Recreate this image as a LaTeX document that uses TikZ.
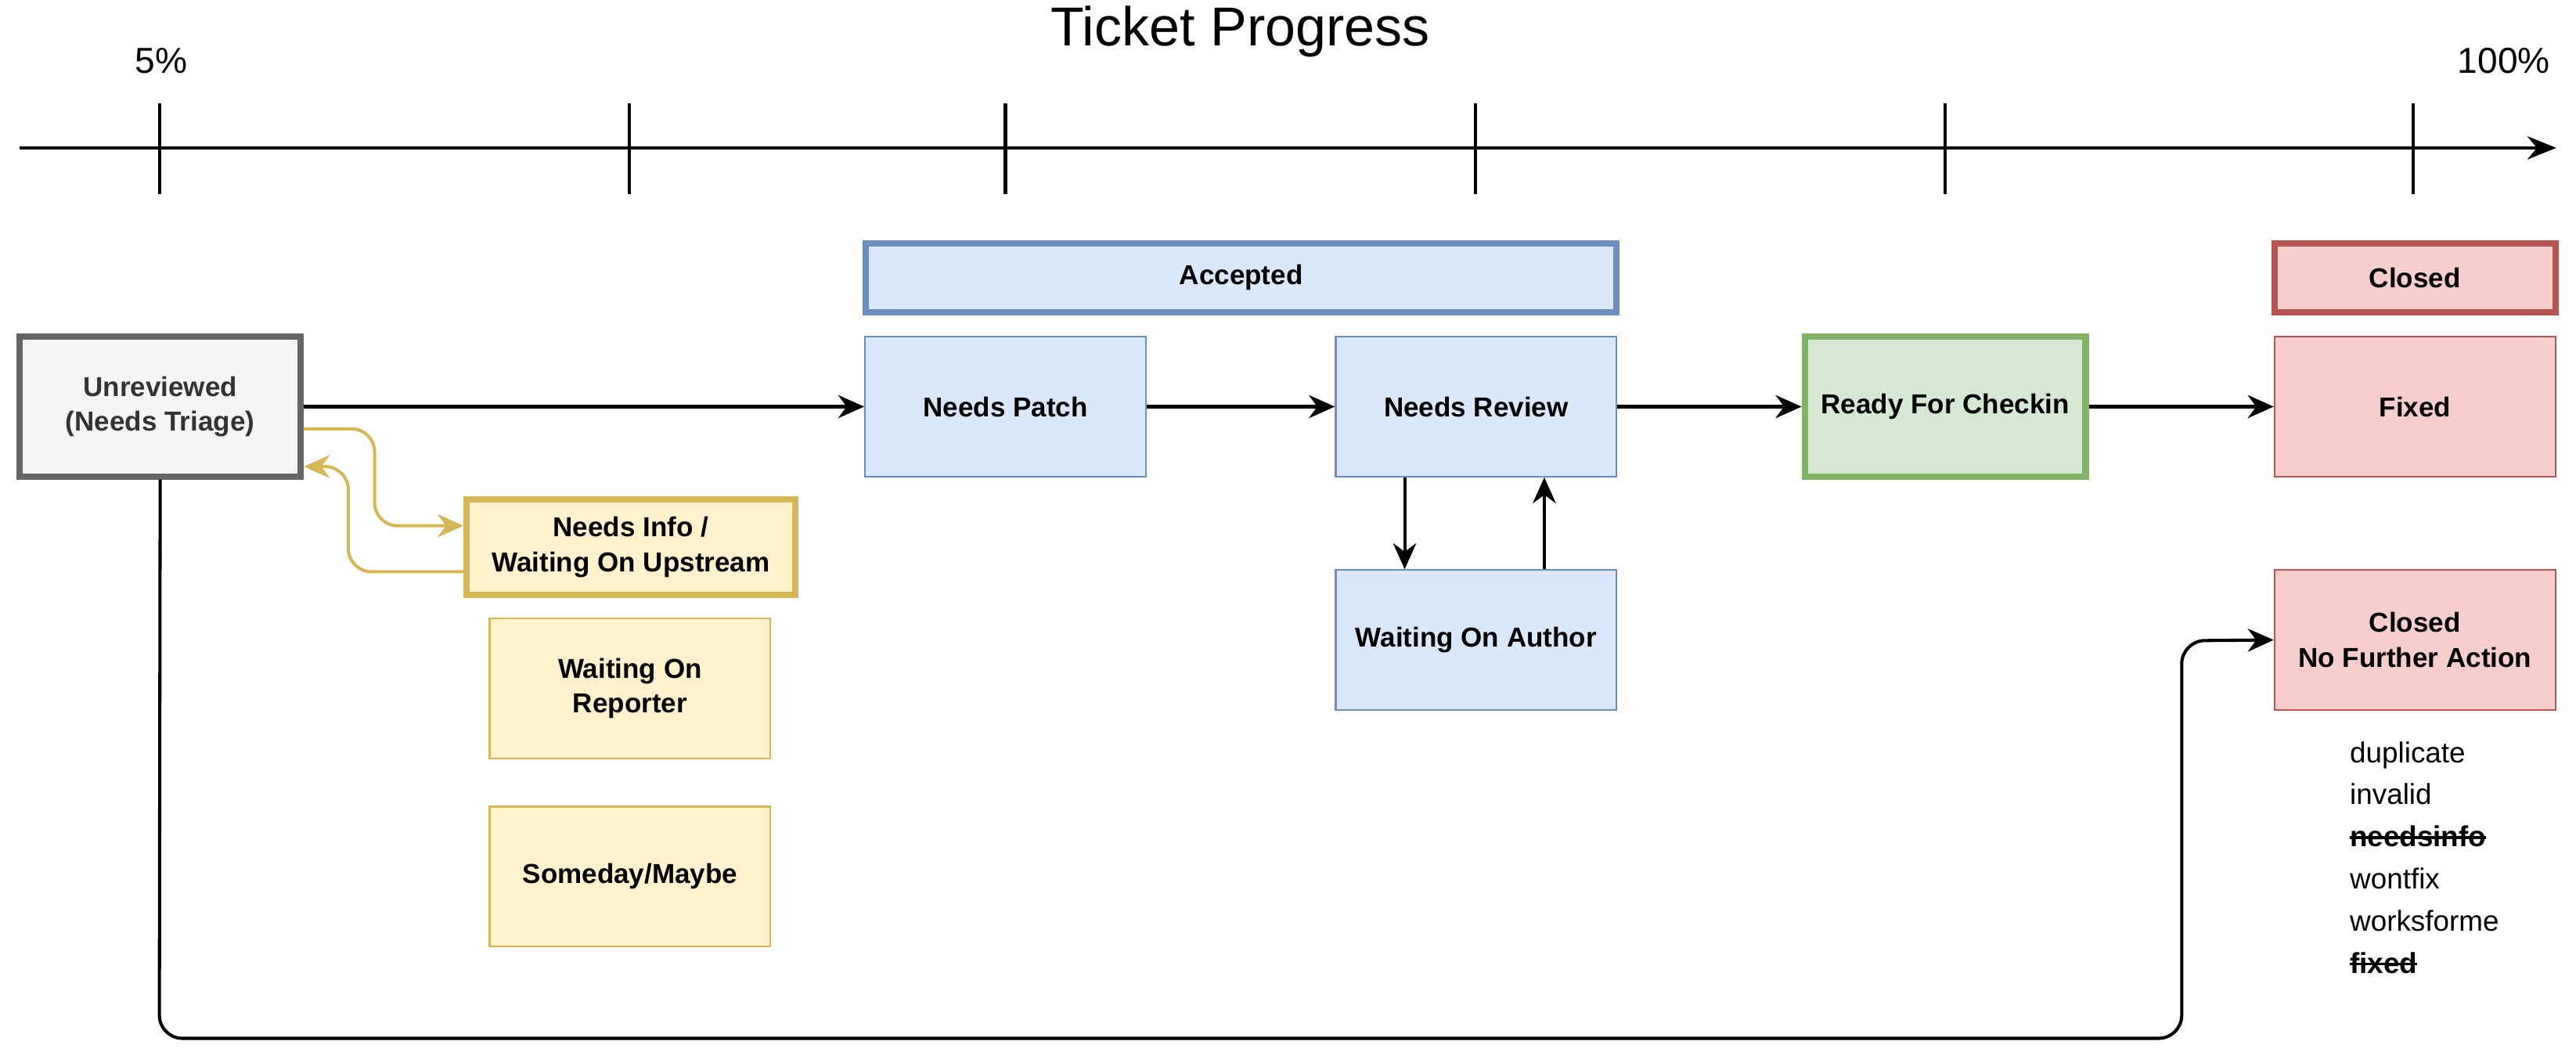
\documentclass[tikz,border=0pt]{standalone}
\usepackage{fontspec}
\setmainfont{Liberation Sans}
\usetikzlibrary{arrows.meta}

\definecolor{blueline}{HTML}{6C8EBF}
\definecolor{bluefill}{HTML}{DAE8FC}
\definecolor{redline}{HTML}{B85450}
\definecolor{redfill}{HTML}{F8CECC}
\definecolor{greenline}{HTML}{82B366}
\definecolor{greenfill}{HTML}{D5E8D4}
\definecolor{goldline}{HTML}{D6B656}
\definecolor{goldfill}{HTML}{FFF2CC}
\definecolor{greyline}{HTML}{666666}
\definecolor{greyfill}{HTML}{F5F5F5}

\newcommand\strikeword[1]{\sbox0{#1}\rlap{\rule[0.27em]{\wd0}{0.9pt}}\usebox0}

\tikzset{
  state/.style={draw, line width=0.6pt, minimum width=3.42cm, minimum height=1.7cm,
    align=center, inner sep=2pt, font=\fontsize{9.5}{12}\selectfont\bfseries},
  bluebox/.style={state, draw=blueline, fill=bluefill},
  redbox/.style={state, draw=redline, fill=redfill},
  goldbox/.style={state, draw=goldline, fill=goldfill},
  heavy/.style={line width=2.2pt},
  flow/.style={-{Stealth[length=9pt,width=8pt]}, line width=1.1pt, rounded corners=8pt},
  goldflow/.style={flow, draw=goldline},
  tick/.style={line width=1.1pt}
}

\begin{document}
\begin{tikzpicture}[x=0.02cm,y=-0.02cm]
\useasboundingbox (0,0) rectangle (1568,647);

% axis
\node[font=\fontsize{19}{22}\selectfont] (title) at (755,19) {Ticket Progress};
\node[font=\fontsize{12.5}{15}\selectfont] (low) at (98,37) {5\%};
\node[font=\fontsize{12.5}{15}\selectfont] (high) at (1524,37) {100\%};
\coordinate (axisL) at (12,90);
\coordinate (axisR) at (1556,90);
\draw[-{Stealth[length=10pt,width=8pt]}, line width=1.1pt] (axisL) -- (axisR);
\foreach \x in {97,383,612,898,1184,1469}
  \draw[tick] (\x,63) -- (\x,118);

% headers
\node[bluebox, heavy, minimum width=9.14cm, minimum height=0.84cm] (accepted) at (755.5,169) {Accepted};
\node[redbox, heavy, minimum width=3.42cm, minimum height=0.84cm] (closed) at (1470,169) {Closed};

% states
\node[state, heavy, draw=greyline, fill=greyfill, text=black!80] (unreviewed) at (97.5,247.5) {Unreviewed\\(Needs Triage)};
\node[bluebox] (patch) at (612,247.5) {Needs Patch};
\node[bluebox] (review) at (898.5,247.5) {Needs Review};
\node[state, heavy, draw=greenline, fill=greenfill] (ready) at (1184,247.5) {Ready For Checkin};
\node[redbox] (fixed) at (1470,247.5) {Fixed};
\node[goldbox, heavy, minimum width=4cm, minimum height=1.16cm] (needsinfo) at (384,333) {Needs Info /\\Waiting On Upstream};
\node[goldbox] (reporter) at (383.5,419) {Waiting On\\Reporter};
\node[goldbox] (someday) at (383.5,533.5) {Someday/Maybe};
\node[bluebox] (author) at (898.5,389.5) {Waiting On Author};
\node[redbox] (nfa) at (1470,389.5) {Closed\\No Further Action};

\node[anchor=north west, align=left, inner sep=0pt, font=\fontsize{10}{14.6}\selectfont] (reasons) at (1430,451)
  {duplicate\\invalid\\\strikeword{\textbf{needsinfo}}\\wontfix\\worksforme\\\strikeword{\textbf{fixed}}};

% transitions
\draw[flow] (unreviewed.east) -- (patch.west);
\draw[flow] (patch) -- (review);
\draw[flow] (review) -- (ready);
\draw[flow] (ready) -- (fixed);
\draw[flow] (review.south -| 855,0) -- (author.north -| 855,0);
\draw[flow] (author.north -| 940,0) -- (review.south -| 940,0);
\draw[goldflow] (unreviewed.east |- 0,261) -- (228,261) -- (228,320) -- (needsinfo.west |- 0,320);
\draw[goldflow] (needsinfo.west |- 0,348) -- (212,348) -- (212,284) -- (unreviewed.east |- 0,284);
\draw[flow] (unreviewed.south) -- (97,632) -- (1328,632) -- (1328,390) -- (nfa.west);
\end{tikzpicture}
\end{document}
